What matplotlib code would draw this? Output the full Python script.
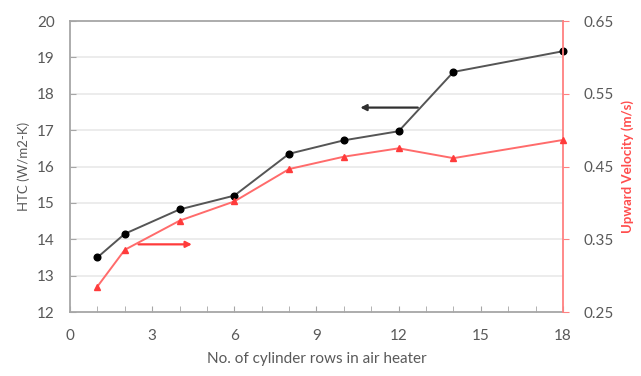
import matplotlib
matplotlib.use("Agg")
import matplotlib.pyplot as plt

plt.rcParams['font.family'] = ['Lato', 'DejaVu Sans']

rows = [1, 2, 4, 6, 8, 10, 12, 14, 18]
htc = [13.5, 14.15, 14.82, 15.2, 16.35, 16.72, 16.97, 18.6, 19.17]
velocity = [0.285, 0.3355, 0.3755, 0.402, 0.4465, 0.4635, 0.475, 0.4615, 0.4865]

x_ticks = [0, 3, 6, 9, 12, 15, 18]
htc_ticks = [12, 13, 14, 15, 16, 17, 18, 19, 20]
vel_ticks = [0.25, 0.35, 0.45, 0.55, 0.65]

grey = '#595959'
spine_grey = '#a6a6a6'
red = '#ff3b3b'

fig = plt.figure(figsize=(6.41, 3.76), dpi=100)
ax = fig.add_axes([0.1092, 0.1702, 0.7691, 0.7739])
ax2 = ax.twinx()

# horizontal gridlines for every HTC step
for y in htc_ticks[1:-1]:
    ax.axhline(y, color='#ebebeb', lw=1.3, zorder=0)

ax.plot(rows, htc, color='#555555', lw=1.4, marker='o', ms=4.8,
        mfc='black', mec='black', zorder=3, clip_on=False)
ax2.plot(rows, velocity, color='#ff6b6b', lw=1.4, marker='^', ms=3.8,
         mfc=red, mec=red, zorder=3, clip_on=False)

ax.set_xlim(0, 18)
ax.set_ylim(12, 20)
ax2.set_ylim(0.25, 0.65)

ax.set_xticks(x_ticks)
ax.set_xticks(range(0, 19), minor=True)
ax.set_yticks(htc_ticks)
ax2.set_yticks(vel_ticks)
ax2.set_yticklabels([f"{v:.2f}" for v in vel_ticks])

ax.tick_params(axis='x', which='both', direction='in', length=4, color=spine_grey,
               labelcolor=grey, labelsize=11, pad=12)
ax.tick_params(axis='y', direction='in', length=4, color=spine_grey,
               labelcolor=grey, labelsize=11, pad=11)
ax2.tick_params(axis='y', direction='out', length=4, color='#ff8080',
                labelcolor=grey, labelsize=11, pad=11)

for side in ['left', 'bottom', 'top']:
    ax.spines[side].set_color(spine_grey)
    ax.spines[side].set_linewidth(1.3)
    ax2.spines[side].set_visible(False)
ax.spines['right'].set_visible(False)
ax2.spines['right'].set_color('#ff8080')
ax2.spines['right'].set_linewidth(1.3)

ax.set_xlabel('No. of cylinder rows in air heater', color=grey, fontsize=11, labelpad=7)
ax.set_ylabel('HTC (W/m2-K)', color=grey, fontsize=9.5, labelpad=5)
ax2.set_ylabel('Upward Velocity (m/s)', color='#ff4d4d', fontsize=9.5,
               fontweight='bold', labelpad=5)

# arrows pointing each curve to its own axis
ax.annotate('', xy=(4.55, 13.86), xytext=(2.4, 13.86),
            arrowprops=dict(arrowstyle='-|>,head_length=0.35,head_width=0.18',
                            color=red, lw=1.6))
ax.annotate('', xy=(10.5, 17.62), xytext=(12.8, 17.62),
            arrowprops=dict(arrowstyle='-|>,head_length=0.35,head_width=0.18',
                            color='#303030', lw=1.6))

fig.savefig('out.png', dpi=100)
